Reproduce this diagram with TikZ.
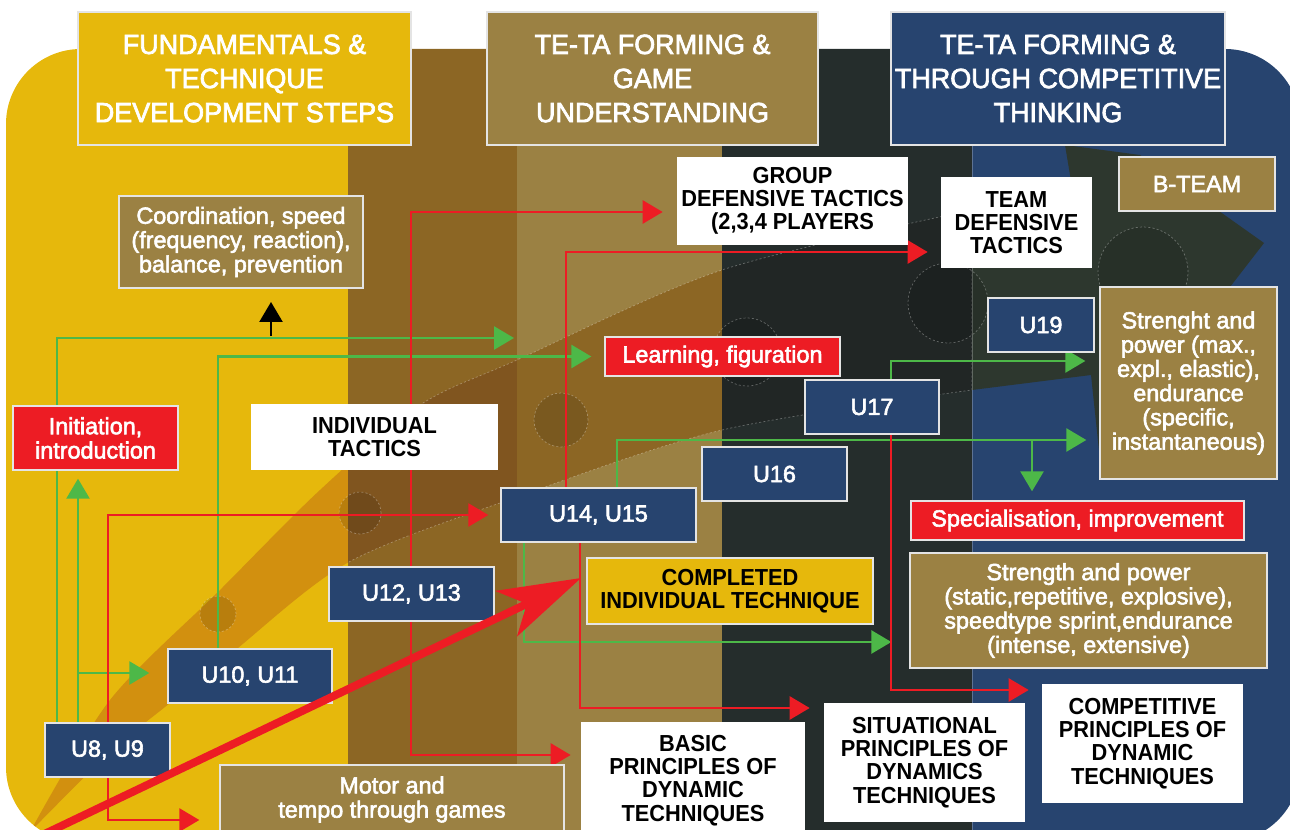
\documentclass[tikz,border=0pt]{standalone}
\usepackage{fontspec}
\setmainfont{Liberation Sans}
\newfontfamily\boxsans[FakeBold=2.5]{Liberation Sans}
\newfontfamily\narrowsans[FakeStretch=0.94]{Liberation Sans}
\newfontfamily\headsans[FakeStretch=0.97,FakeBold=2.5]{Liberation Sans}
\usetikzlibrary{arrows.meta,calc}
\definecolor{phaseyellow}{HTML}{E6B80C}
\definecolor{phasebrown}{HTML}{8C6624}
\definecolor{phasetan}{HTML}{9B8143}
\definecolor{phasedark}{HTML}{252D2C}
\definecolor{phaseblue}{HTML}{27446F}
\definecolor{bandyellow}{HTML}{D2900F}
\definecolor{bandbrown}{HTML}{80551F}
\definecolor{banddark}{HTML}{212625}
\definecolor{bandgreen}{HTML}{2D372E}
\definecolor{boxred}{HTML}{ED1C24}
\definecolor{arrowgreen}{HTML}{4DB848}
\definecolor{edgegray}{HTML}{E4E4E4}
\pgfdeclarelayer{bg}
\pgfdeclarelayer{links}
\pgfsetlayers{bg,links,main}
% path of the ball across the phases
\newcommand{\ballpath}{plot[smooth,tension=0.5] coordinates {(30,832) (110,700) (220,590) (320,490) (420,405) (517,360) (722,270) (972,210)}
  -- plot[smooth,tension=0.5] coordinates {(972,390) (722,430) (517,497) (349,562) (233,652) (170,703) (110,752) (30,832)} -- cycle}

\begin{document}
\begin{tikzpicture}[x=0.02cm, y=-0.02cm,
  headbox/.style={draw=edgegray, line width=0.8pt, text=white, align=center, inner sep=0pt,
    font=\headsans\fontsize{15.8}{19.4}\selectfont, minimum height=2.66cm},
  textbox/.style={draw=edgegray, line width=0.8pt, text=white, align=center, inner sep=0pt,
    font=\boxsans\fontsize{13.3}{13.8}\selectfont},
  agebox/.style={textbox, fill=phaseblue, minimum height=1.08cm},
  tanbox/.style={textbox, fill=phasetan},
  redbox/.style={textbox, fill=boxred},
  capbox/.style={fill=white, text=black, align=center, inner sep=0pt,
    font=\narrowsans\bfseries\fontsize{13.2}{13.2}\selectfont},
  greenline/.style={draw=arrowgreen, line width=1.5pt, -{Triangle[length=0.4cm,width=0.46cm]}},
  redline/.style={draw=boxred, line width=1.5pt, -{Triangle[length=0.4cm,width=0.46cm]}},
  bigarrow/.style={draw=boxred, line width=4.5pt, -{Stealth[length=1.65cm,width=1.0cm,inset=0.45cm]}},
  faintline/.style={draw=white, draw opacity=0.3, line width=0.4pt, dash pattern=on 1.2pt off 1.2pt},
  playerdot/.style={fill=black, fill opacity=0.12, faintline}]
  \useasboundingbox (0,0) rectangle (1290,830);

  \begin{pgfonlayer}{bg}
    % phase columns
    \begin{scope}
      \clip[rounded corners=1.5cm] (6,49) rectangle (1300,842);
      \fill[phaseyellow] (0,0) rectangle (348,900);
      \fill[phasebrown] (348,0) rectangle (517,900);
      \fill[phasetan] (517,0) rectangle (722,900);
      \fill[phasedark] (722,0) rectangle (972,900);
      \fill[phaseblue] (972,0) rectangle (1300,900);
      % ball trail
      \begin{scope}
        \clip \ballpath;
        \fill[bandyellow] (0,0) rectangle (348,900);
        \fill[bandbrown] (348,0) rectangle (517,900);
        \fill[phasebrown] (517,0) rectangle (722,900);
        \fill[banddark] (722,0) rectangle (972,900);
      \end{scope}
      \begin{scope}
        \clip (348,0) rectangle (972,900);
        \draw[faintline] \ballpath;
      \end{scope}
      % ball head
      \fill[bandgreen] (972,210) -- (1077,217) -- (1065,145) -- (1140,155) -- (1264,243) -- (1230,287)
        -- (1100,460) -- (1091,375) -- (972,390) -- cycle;
      \draw[white, opacity=0.25, line width=0.4pt] (972,49) -- (972,900);
      % players
      \foreach \cx/\cy/\r in {218/614/0.36, 360/513/0.42, 561/420/0.54, 747/352/0.68, 948/303/0.8, 1143/272/0.9}
        \path[playerdot] (\cx,\cy) circle[radius=\r cm];
    \end{scope}
  \end{pgfonlayer}

  % phase headings
  \node[headbox, fill=phaseyellow, minimum width=6.66cm] (head1) at (244.5,78.5) {FUNDAMENTALS \&\\TECHNIQUE\\DEVELOPMENT STEPS};
  \node[headbox, fill=phasetan, minimum width=6.62cm] (head2) at (652.5,78.5) {TE-TA FORMING \&\\GAME\\UNDERSTANDING};
  \node[headbox, fill=phaseblue, minimum width=6.68cm] (head3) at (1058,78.5) {TE-TA FORMING \&\\THROUGH COMPETITIVE\\THINKING};

  % age groups
  \node[agebox, minimum width=2.50cm] (u89) at (107.5,750) {U8, U9};
  \node[agebox, minimum width=3.28cm] (u1011) at (250,676) {U10, U11};
  \node[agebox, minimum width=3.30cm] (u1213) at (411.5,594) {U12, U13};
  \node[agebox, minimum width=3.90cm] (u1415) at (598.5,515) {U14, U15};
  \node[agebox, minimum width=2.90cm] (u16) at (774.5,474) {U16};
  \node[agebox, minimum width=2.68cm] (u17) at (872,407) {U17};
  \node[agebox, minimum width=2.12cm] (u19) at (1041,325) {U19};

  % contents
  \node[tanbox, minimum width=4.88cm, minimum height=1.84cm] (coord) at (241,242) {Coordination, speed\\(frequency, reaction),\\balance, prevention};
  \node[redbox, minimum width=3.30cm, minimum height=1.28cm] (init) at (95.5,438) {Initiation,\\introduction};
  \node[capbox, minimum width=4.94cm, minimum height=1.32cm] (indtac) at (374.5,437) {INDIVIDUAL\\TACTICS};
  \node[tanbox, minimum width=6.88cm, minimum height=1.38cm] (motor) at (392,799.5) {Motor and\\tempo through games};
  \node[capbox, minimum width=4.48cm, minimum height=2.34cm] (basic) at (693,780.5) {BASIC\\PRINCIPLES OF\\DYNAMIC\\TECHNIQUES};
  \node[capbox, minimum width=4.02cm, minimum height=2.38cm] (situ) at (924.5,762.5) {SITUATIONAL\\PRINCIPLES OF\\DYNAMICS\\TECHNIQUES};
  \node[capbox, minimum width=4.02cm, minimum height=2.40cm] (compet) at (1142.5,743.5) {COMPETITIVE\\PRINCIPLES OF\\DYNAMIC\\TECHNIQUES};
  \node[capbox, fill=phaseyellow, draw=edgegray, line width=0.8pt, minimum width=5.72cm, minimum height=1.32cm] (complet) at (730,591) {COMPLETED\\INDIVIDUAL TECHNIQUE};
  \node[redbox, minimum width=4.70cm, minimum height=0.78cm] (learn) at (722.5,356.5) {Learning, figuration};
  \node[capbox, minimum width=4.62cm, minimum height=1.76cm] (group) at (792.5,201) {GROUP\\DEFENSIVE TACTICS\\(2,3,4 PLAYERS};
  \node[capbox, minimum width=3.02cm, minimum height=1.82cm] (team) at (1016.5,222.5) {TEAM\\DEFENSIVE\\TACTICS};
  \node[tanbox, minimum width=3.12cm, minimum height=1.08cm] (bteam) at (1197,184) {B-TEAM};
  \node[tanbox, minimum width=3.54cm, minimum height=3.84cm] (str1) at (1188.5,383) {Strenght and\\power (max.,\\expl., elastic),\\endurance\\(specific,\\instantaneous)};
  \node[redbox, minimum width=6.66cm, minimum height=0.78cm] (spec) at (1077.5,520.5) {Specialisation, improvement};
  \node[tanbox, minimum width=7.14cm, minimum height=2.30cm] (str2) at (1088.5,610.5) {Strength and power\\(static,repetitive, explosive),\\speedtype sprint,endurance\\(intense, extensive)};

  % free arrow ends
  \coordinate (g1tip) at (514,338);
  \coordinate (g2fork) at (78,673);
  \coordinate (g4fork) at (1032,440);
  \coordinate (bigtail) at (36,838);
  \coordinate (bigtip) at (581,578);
  \coordinate (blackfoot) at (271,336);
  \coordinate (blacktip) at (271,302);

  \begin{pgfonlayer}{links}
    % green links
    \draw[greenline] (57,0 |- u89.north) |- (g1tip);
    \draw[greenline, shorten >=0.16cm] (78,0 |- u89.north) -- (78,0 |- init.south);
    \draw[greenline, shorten >=0.36cm] (g2fork) -- (u1011.west |- g2fork);
    \draw[greenline, shorten >=0.26cm] (218,0 |- u1011.north) |- (learn.west);
    \draw[greenline, shorten >=0.26cm] (617,0 |- u1415.north) |- (str1.west |- 0,440);
    \draw[greenline, shorten >=0.18cm] (g4fork) -- (g4fork |- spec.north);
    \draw[greenline, shorten >=0.36cm] (524,0 |- u1415.south) |- (str2.west |- 0,642);
    \draw[greenline, shorten >=0.28cm] (891,0 |- u17.north) |- (str1.west |- 0,361);
    % red links
    \draw[redline, shorten >=0.24cm] (108,0 |- u89.north) |- (u1415.west);
    \draw[redline, shorten >=0.40cm] (108,0 |- u89.south) |- (motor.west |- 0,820);
    \draw[redline, shorten >=0.28cm] (411,0 |- u1213.north) |- (group.west |- 0,212);
    \draw[redline, shorten >=0.20cm] (411,0 |- u1213.south) |- (basic.west |- 0,755);
    \draw[redline, shorten >=0.26cm] (566,0 |- u1415.north) |- (team.west |- 0,252);
    \draw[redline, shorten >=0.28cm] (580,0 |- u1415.south) |- (situ.west |- 0,708);
    \draw[redline, shorten >=0.26cm] (891,0 |- u17.south) |- (compet.west |- 0,690);
  \end{pgfonlayer}

  % development arrow
  \draw[bigarrow] (bigtail) -- (bigtip);
  \draw[line width=1.4pt, -{Triangle[length=0.4cm,width=0.46cm]}] (blackfoot) -- (blacktip);
\end{tikzpicture}
\end{document}
